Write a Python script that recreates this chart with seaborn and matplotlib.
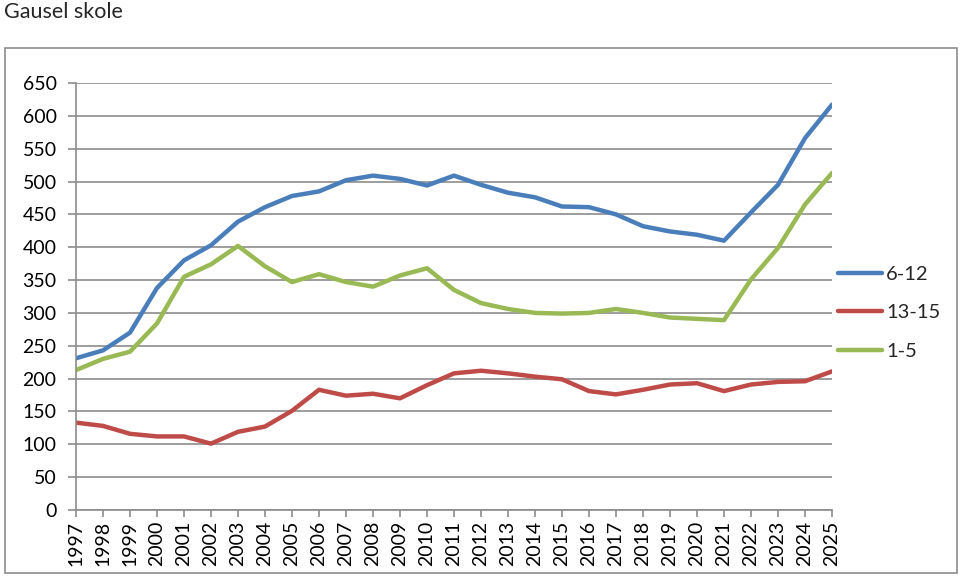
import matplotlib
matplotlib.use("Agg")
import matplotlib.pyplot as plt
import seaborn as sns
import pandas as pd
from matplotlib.patches import Rectangle

years = list(range(1997, 2026))
s_6_12 = [231, 243, 270, 338, 380, 403, 439, 461, 478, 485, 502, 509, 504, 494, 509, 495, 483, 476, 462, 461,
          450, 432, 424, 419, 410, 453, 495, 566, 617]
s_13_15 = [133, 128, 116, 112, 112, 101, 119, 127, 151, 183, 174, 177, 170, 190, 208, 212, 208, 203, 199, 181,
           176, 183, 191, 193, 181, 191, 195, 196, 211]
s_1_5 = [213, 230, 241, 284, 355, 374, 402, 371, 347, 359, 347, 340, 357, 368, 335, 315, 306, 300, 299, 300,
         306, 300, 293, 291, 289, 351, 399, 465, 513]
series_names = ["6-12", "13-15", "1-5"]
colors = ["#4A7EBB", "#BE4B48", "#98B954"]
y_ticks = list(range(0, 651, 50))

df = pd.DataFrame({
    "year": years * 3,
    "value": s_6_12 + s_13_15 + s_1_5,
    "series": [series_names[0]] * len(years) + [series_names[1]] * len(years) + [series_names[2]] * len(years),
})

sns.set_style("white")
plt.rcParams["font.family"] = ["Lato", "DejaVu Sans"]

fig = plt.figure(figsize=(9.6, 5.77), dpi=100)
ax = fig.add_axes([76 / 960, 1 - 510 / 577, (832 - 76) / 960, (510 - 83) / 577])

sns.lineplot(data=df, x="year", y="value", hue="series", hue_order=series_names,
             palette=colors, linewidth=3.2, ax=ax, legend=True)

ax.set_xlim(1997, 2025)
ax.set_ylim(0, 650)
ax.set_xticks(years)
ax.set_xticklabels([str(y) for y in years], rotation=90, fontsize=14)
ax.set_yticks(y_ticks)
ax.set_yticklabels([str(v) for v in y_ticks], fontsize=14)
ax.set_xlabel("")
ax.set_ylabel("")
ax.grid(axis="y", color="#8c8c8c", linewidth=1.2)
ax.set_axisbelow(True)
for side in ["top", "right"]:
    ax.spines[side].set_visible(False)
for side in ["left", "bottom"]:
    ax.spines[side].set_color("#8c8c8c")
    ax.spines[side].set_linewidth(1.2)
ax.tick_params(axis="both", which="both", direction="out", length=5, width=1.2, color="#8c8c8c",
               labelcolor="black")
ax.tick_params(axis="x", bottom=True, pad=3)
ax.tick_params(axis="y", left=True, length=6, pad=8)

handles, labels = ax.get_legend_handles_labels()
ax.legend_.remove()
fig.legend(handles, labels, loc="upper left", bbox_to_anchor=(838 / 960, 1 - 266 / 577),
           frameon=False, fontsize=14.5, handlelength=2.2, handletextpad=0.2, labelspacing=1.05,
           borderaxespad=0, borderpad=0)

fig.add_artist(Rectangle((5 / 960, 1 - 573 / 577), (957 - 5) / 960, (573 - 48) / 577,
                         transform=fig.transFigure, fill=False, edgecolor="#8c8c8c", linewidth=1.2))
fig.text(4 / 960, 1 - 12 / 577, "Gausel skole", fontsize=15.5, va="center", ha="left")

fig.savefig("out.png", dpi=100)
